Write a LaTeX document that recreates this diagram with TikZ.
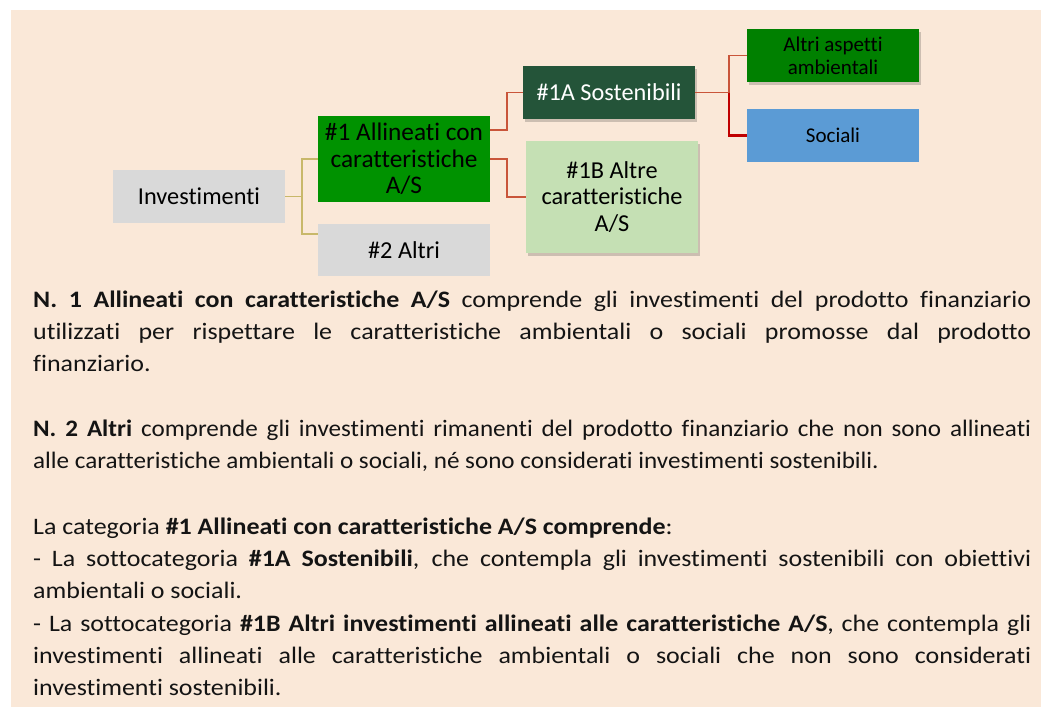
\documentclass[tikz,border=0pt]{standalone}
\usepackage{fontspec}
\setmainfont{Carlito}[Ligatures=CommonOff]
\newfontfamily\parafont{Carlito}[FakeStretch=1.1, Ligatures=CommonOff]
\newfontfamily\parafontb{Carlito}[FakeStretch=1.064, Ligatures=CommonOff]
\usetikzlibrary{shadows}
\definecolor{bg}{HTML}{FAE8D8}
\definecolor{boxgray}{HTML}{D9D9D9}
\definecolor{green1}{HTML}{009200}
\definecolor{darkgreen}{HTML}{245439}
\definecolor{lightgreen}{HTML}{C5E0B4}
\definecolor{green2}{HTML}{008000}
\definecolor{blue1}{HTML}{5B9BD5}
\definecolor{tan}{HTML}{C8B86A}
\definecolor{rust}{HTML}{C9553A}
\definecolor{deepred}{HTML}{C00000}
\definecolor{txt}{HTML}{141414}
\newsavebox\lbox
\newcommand\jline[1]{\sbox\lbox{#1}\ifdim\wd\lbox>998pt\resizebox{998pt}{\height}{\usebox\lbox}\else\makebox[998pt][s]{#1}\fi}
\begin{document}
\begin{tikzpicture}[x=1pt,y=-1pt,
  box/.style={rectangle, inner sep=2pt, align=center, minimum width=172pt, text=black,
    font=\fontsize{24.3}{26.5}\selectfont},
  shad/.style={drop shadow={shadow xshift=2pt, shadow yshift=-3pt, fill=black, opacity=0.18}},
  tanline/.style={draw=tan, line width=1.6pt},
  rustline/.style={draw=rust, line width=1.6pt},
  redline/.style={draw=deepred, line width=2.4pt},
  para/.style={anchor=base west, inner sep=0pt, text=txt, font=\parafont\fontsize{23.6}{32.3}\selectfont},
  parab/.style={para, font=\parafontb\fontsize{23.6}{32.3}\selectfont}]
\useasboundingbox (0,0) rectangle (1041,707);
\fill[bg] (11,10) rectangle (1041,707);

% nodes
\node[box, fill=boxgray, minimum height=53pt] (inv) at (199,196.5) {Investimenti};
\node[box, fill=green1, minimum height=86pt, font=\fontsize{25.3}{26.7}\selectfont] (a1) at (404,159) {\#1 Allineati con\\caratteristiche\\A/S};
\node[box, fill=boxgray, minimum height=52pt] (a2) at (404,250) {\#2 Altri};
\node[box, shad, fill=darkgreen, minimum height=53pt, text=white] (s1a) at (609,92.5) {\#1A Sostenibili};
\node[box, shad, fill=lightgreen, minimum height=112pt] (s1b) at (612,197) {\#1B Altre\\caratteristiche\\A/S};
\node[box, shad, fill=green2, minimum height=53pt, font=\fontsize{21}{22.7}\selectfont] (aa) at (833,55.5) {Altri aspetti\\ambientali};
\node[box, fill=blue1, minimum height=53pt, font=\fontsize{21}{22.7}\selectfont] (soc) at (833,135.5) {Sociali};

% connectors
\draw[tanline] (inv.east) -- ++(17,0) coordinate (j1);
\draw[tanline] (j1) |- (a1.west);
\draw[tanline] (j1) |- ([yshift=16pt]a2.west);
\draw[rustline] ([yshift=29pt]a1.east) -- ++(17,0) |- (s1a.west);
\draw[rustline] (a1.east) -- ++(17,0) |- (s1b.west);
\draw[rustline] (s1a.east) -- ++(34,0) coordinate (j2) |- (aa.west);
\draw[redline] (j2) |- (soc.west);

% text
\node[para] (l1) at (33,307) {\jline{\textbf{N. 1 Allineati con caratteristiche A/S} comprende gli investimenti del prodotto finanziario}};
\node[para] (l2) at (33,339) {\jline{utilizzati per rispettare le caratteristiche ambientali o sociali promosse dal prodotto}};
\node[para] (l3) at (33,371) {finanziario.};
\node[parab] (l4) at (33,436) {\jline{\textbf{N. 2 Altri} comprende gli investimenti rimanenti del prodotto finanziario che non sono allineati}};
\node[parab] (l5) at (33,468) {alle caratteristiche ambientali o sociali, né sono considerati investimenti sostenibili.};
\node[para] (l6) at (33,534) {La categoria \textbf{\#1 Allineati con caratteristiche A/S comprende}:};
\node[para] (l7) at (33,566) {\jline{- La sottocategoria \textbf{\#1A Sostenibili}, che contempla gli investimenti sostenibili con obiettivi}};
\node[para] (l8) at (33,598) {ambientali o sociali.};
\node[para] (l9) at (33,631) {\jline{- La sottocategoria \textbf{\#1B Altri investimenti allineati alle caratteristiche A/S}, che contempla gli}};
\node[para] (l10) at (33,663) {\jline{investimenti allineati alle caratteristiche ambientali o sociali che non sono considerati}};
\node[para] (l11) at (33,695) {investimenti sostenibili.};
\end{tikzpicture}
\end{document}
